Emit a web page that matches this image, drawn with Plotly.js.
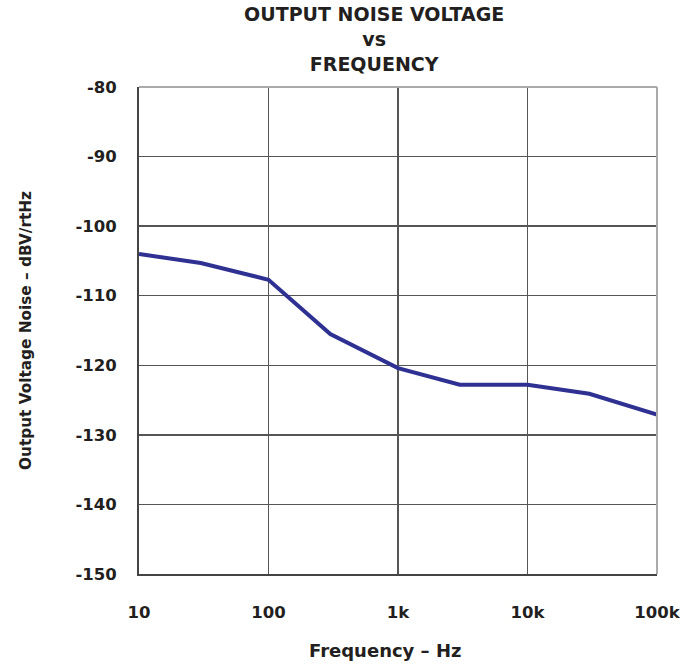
<!DOCTYPE html>
<html>
<head>
<meta charset="utf-8">
<script src="https://cdn.plot.ly/plotly-3.0.1.min.js"></script>
<style>html,body{margin:0;padding:0;background:#fff;}#chart{width:700px;height:671px;}</style>
</head>
<body>
<div id="chart"></div>
<script>
// Data
var frequencyHz = [10, 30, 100, 300, 1000, 3000, 10000, 30000, 100000];
var noiseDbV = [-104.0, -105.3, -107.7, -115.5, -120.4, -122.8, -122.8, -124.1, -127.1];
var xTickVals = [10, 100, 1000, 10000, 100000];
var xTickText = ['10', '100', '1k', '10k', '100k'];
var yTickVals = [-80, -90, -100, -110, -120, -130, -140, -150];
var yTickText = ['-80', '-90', '-100', '-110', '-120', '-130', '-140', '-150'];

var FONT = 'DejaVu Sans, Verdana, sans-serif';
var TXT = '#231f20';

var trace = {
  x: frequencyHz,
  y: noiseDbV,
  type: 'scatter',
  mode: 'lines',
  line: {color: '#2e3192', width: 4},
  hoverinfo: 'skip'
};

var layout = {
  width: 700,
  height: 671,
  margin: {l: 139, r: 43, t: 87, b: 97, pad: 0},
  paper_bgcolor: '#ffffff',
  plot_bgcolor: '#ffffff',
  showlegend: false,
  font: {family: FONT, color: TXT},
  title: {
    text: '<b>OUTPUT NOISE VOLTAGE<br>vs<br>FREQUENCY</b>',
    font: {family: FONT, size: 19, color: TXT},
    x: 0.454, xref: 'paper', xanchor: 'center',
    y: 0.968, yref: 'container', yanchor: 'top'
  },
  xaxis: {
    type: 'log',
    range: [1, 5],
    tickvals: xTickVals,
    ticktext: xTickText,
    tickfont: {family: FONT, size: 16.5, color: TXT, weight: 'bold'},
    ticks: '',
    ticklabelstandoff: 22,
    showgrid: true,
    gridcolor: '#555555',
    gridwidth: 1.5,
    showline: true,
    linecolor: '#444444',
    linewidth: 2,
    zeroline: false
  },
  yaxis: {
    range: [-150, -80],
    tickvals: yTickVals,
    ticktext: yTickText,
    tickfont: {family: FONT, size: 16.5, color: TXT, weight: 'bold'},
    ticks: '',
    ticklabelstandoff: 17,
    showgrid: true,
    gridcolor: '#555555',
    gridwidth: 1.5,
    showline: true,
    linecolor: '#444444',
    linewidth: 2,
    zeroline: false,
    title: {text: '<b>Output Voltage Noise – dBV/rtHz</b>', font: {family: FONT, size: 15.3, color: TXT}, standoff: 40}
  },
  annotations: [
    {text: '<b>Frequency – Hz</b>', xref: 'paper', yref: 'paper', x: 0.475, y: -0.158,
     xanchor: 'center', yanchor: 'middle', showarrow: false,
     font: {family: FONT, size: 18, color: TXT}}
  ],
  shapes: [
    {type: 'line', xref: 'paper', yref: 'paper', x0: 0, x1: 1, y0: 1, y1: 1, line: {color: '#aaaaaa', width: 2}, layer: 'above'},
    {type: 'line', xref: 'paper', yref: 'paper', x0: 1, x1: 1, y0: 0, y1: 1, line: {color: '#aaaaaa', width: 2}, layer: 'above'}
  ]
};

Plotly.newPlot('chart', [trace], layout, {displayModeBar: false, staticPlot: true});
</script>
</body>
</html>
